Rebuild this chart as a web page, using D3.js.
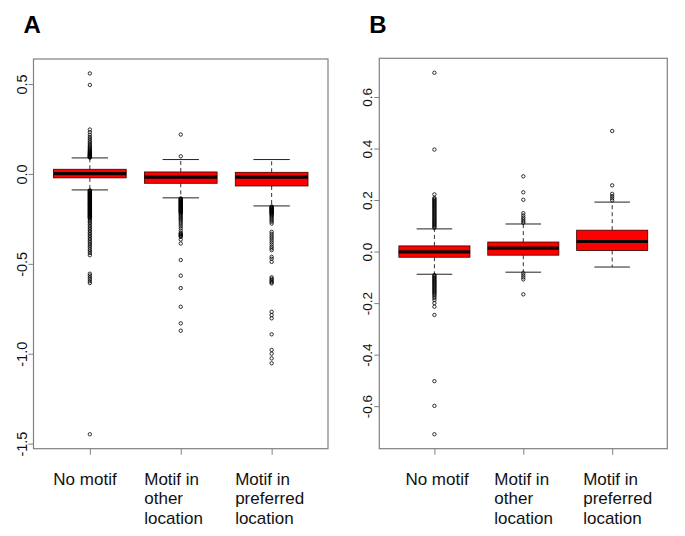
<!DOCTYPE html>
<html>
<head>
<meta charset="utf-8">
<script src="https://cdn.jsdelivr.net/npm/d3@7"></script>
<style>
  body { margin: 0; background: #fff; }
  text { font-family: "Liberation Sans", Arial, sans-serif; }
</style>
</head>
<body>
<div id="chart"></div>
<script>
// groups (the same in both panels)
var groups = [["No motif"], ["Motif in", "other", "location"], ["Motif in", "preferred", "location"]];

// panel A: box statistics
var aLow = [-0.089, -0.133, -0.178];
var aQ1 = [-0.022, -0.052, -0.067];
var aMed = [0.002, -0.018, -0.018];
var aQ3 = [0.026, 0.011, 0.009];
var aHigh = [0.089, 0.080, 0.080];
var aTicks = [0.5, 0.0, -0.5, -1.0, -1.5];
// panel A: outliers per group
var aOut1 = [0.559, 0.495, 0.247, 0.232, 0.218, 0.205, 0.195, 0.185, 0.176, 0.168, 0.160, 0.153,
  0.147, 0.141, 0.136, 0.131, 0.127, 0.123, 0.119, 0.116, 0.113, 0.110, 0.107, 0.104, 0.101,
  0.099, 0.097, 0.095, 0.093, 0.091,
  -0.091, -0.094, -0.097, -0.100, -0.103, -0.106, -0.109, -0.112, -0.115, -0.118, -0.121,
  -0.124, -0.127, -0.130, -0.133, -0.136, -0.139, -0.142, -0.145, -0.148, -0.151, -0.154,
  -0.157, -0.160, -0.163, -0.166, -0.169, -0.172, -0.175, -0.178, -0.181, -0.184, -0.187,
  -0.190, -0.193, -0.196, -0.199, -0.202, -0.205, -0.208, -0.211, -0.214, -0.217, -0.220,
  -0.223, -0.226, -0.229, -0.232, -0.235, -0.238, -0.241, -0.244, -0.248, -0.256, -0.264,
  -0.272, -0.281, -0.290, -0.299, -0.308, -0.317, -0.326, -0.335, -0.344, -0.353, -0.362,
  -0.371, -0.380, -0.390, -0.400, -0.410, -0.420, -0.430, -0.440, -0.452,
  -0.555, -0.565, -0.575, -0.585, -0.597, -0.607, -1.448];
var aOut2 = [0.219, 0.098,
  -0.136, -0.139, -0.142, -0.145, -0.148, -0.151, -0.154, -0.157, -0.160, -0.163, -0.166,
  -0.169, -0.172, -0.175, -0.178, -0.181, -0.184, -0.187, -0.190, -0.193, -0.196, -0.199,
  -0.202, -0.205, -0.208, -0.211, -0.214, -0.218, -0.224, -0.230, -0.237, -0.244, -0.251,
  -0.258, -0.268, -0.278, -0.290, -0.302, -0.315, -0.327, -0.333, -0.337, -0.341, -0.345,
  -0.350, -0.365, -0.387, -0.479, -0.566, -0.635, -0.739, -0.831, -0.872];
var aOut3 = [-0.181, -0.184, -0.187, -0.190, -0.193, -0.196, -0.199, -0.202, -0.205, -0.208,
  -0.211, -0.214, -0.217, -0.220, -0.224, -0.229, -0.235, -0.242, -0.250, -0.258, -0.266,
  -0.276, -0.322, -0.333, -0.345, -0.356, -0.368, -0.380, -0.392, -0.404, -0.414, -0.424,
  -0.461, -0.472, -0.489, -0.575, -0.583, -0.590, -0.597, -0.603, -0.609,
  -0.767, -0.785, -0.803, -0.892, -0.979, -1.000, -1.026, -1.053];

// panel B: box statistics
var bLow = [-0.088, -0.080, -0.060];
var bQ1 = [-0.022, -0.014, 0.004];
var bMed = [-0.001, 0.013, 0.039];
var bQ3 = [0.022, 0.037, 0.083];
var bHigh = [0.088, 0.107, 0.192];
var bTicks = [0.6, 0.4, 0.2, 0.0, -0.2, -0.4, -0.6];
// panel B: outliers per group
var bOut1 = [0.694, 0.396, 0.222, 0.208, 0.204, 0.200, 0.196, 0.192, 0.188, 0.184, 0.180,
  0.176, 0.172, 0.168, 0.164, 0.160, 0.156, 0.152, 0.148, 0.144, 0.140, 0.136, 0.132, 0.128,
  0.124, 0.120, 0.116, 0.112, 0.108, 0.104, 0.100, 0.096, 0.092,
  -0.091, -0.095, -0.099, -0.103, -0.107, -0.111, -0.115, -0.119, -0.123, -0.127, -0.131,
  -0.135, -0.139, -0.143, -0.147, -0.151, -0.155, -0.159, -0.163, -0.168, -0.174, -0.180,
  -0.188, -0.200, -0.214, -0.246, -0.503, -0.599, -0.709];
var bOut2 = [0.292, 0.230, 0.201, 0.149, 0.140, 0.132, 0.125, 0.118, 0.112,
  -0.084, -0.092, -0.100, -0.108, -0.166];
var bOut3 = [0.468, 0.257, 0.224, 0.215, 0.207, 0.199];

var W = 685, H = 536;
var svg = d3.select("#chart").append("svg").attr("width", W).attr("height", H);

function panel(p) {
  var all = d3.merge([p.low, p.high].concat(p.out));
  var lo = d3.min(all), hi = d3.max(all), r = hi - lo;
  // R style axes: 4% padding
  var y = d3.scaleLinear().domain([lo - 0.04 * r, hi + 0.04 * r]).range([p.bottom, p.top]);
  var x = d3.scaleLinear().domain([0.38, 3.62]).range([p.left, p.right]);
  var g = svg.append("g");

  // panel letter
  g.append("text").attr("x", p.left - 10).attr("y", 33)
    .style("font-size", "24px").style("font-weight", "bold").text(p.letter);

  var stats = d3.range(3).map(function(i) {
    return {i: i + 1, low: p.low[i], q1: p.q1[i], med: p.med[i], q3: p.q3[i], high: p.high[i], out: p.out[i]};
  });
  var bx = g.selectAll("g.box").data(stats).enter().append("g").attr("class", "box");
  // whiskers
  bx.append("line").attr("x1", d => x(d.i)).attr("x2", d => x(d.i))
    .attr("y1", d => y(d.q3)).attr("y2", d => y(d.high))
    .attr("stroke", "#333").attr("stroke-dasharray", "4,3");
  bx.append("line").attr("x1", d => x(d.i)).attr("x2", d => x(d.i))
    .attr("y1", d => y(d.q1)).attr("y2", d => y(d.low))
    .attr("stroke", "#333").attr("stroke-dasharray", "4,3");
  ["low", "high"].forEach(function(k) {
    bx.append("line").attr("x1", d => x(d.i - 0.2)).attr("x2", d => x(d.i + 0.2))
      .attr("y1", d => y(d[k])).attr("y2", d => y(d[k]))
      .attr("stroke", "#222").attr("stroke-width", 1);
  });
  // boxes
  bx.append("rect").attr("x", d => x(d.i - 0.4)).attr("width", d => x(d.i + 0.4) - x(d.i - 0.4))
    .attr("y", d => y(d.q3)).attr("height", d => y(d.q1) - y(d.q3))
    .attr("fill", "#ff0000").attr("stroke", "#3a0000").attr("stroke-width", 0.8);
  bx.append("line").attr("x1", d => x(d.i - 0.4)).attr("x2", d => x(d.i + 0.4))
    .attr("y1", d => y(d.med)).attr("y2", d => y(d.med))
    .attr("stroke", "#100000").attr("stroke-width", 3.2);
  // outliers
  bx.each(function(d) {
    d3.select(this).selectAll("circle").data(d.out).enter().append("circle")
      .attr("cx", x(d.i)).attr("cy", v => y(v)).attr("r", 1.7)
      .attr("fill", "none").attr("stroke", "#000").attr("stroke-width", 0.8);
  });

  // frame
  g.append("rect").attr("x", p.left).attr("y", p.top)
    .attr("width", p.right - p.left).attr("height", p.bottom - p.top)
    .attr("fill", "none").attr("stroke", "#808080").attr("stroke-width", 1.2);

  // y axis
  var ya = g.append("g").attr("transform", "translate(" + p.left + ",0)")
    .call(d3.axisLeft(y).tickValues(p.ticks).tickSize(5).tickFormat(d => d.toFixed(1)));
  ya.select(".domain").remove();
  ya.selectAll("line").attr("stroke", "#808080");
  ya.selectAll("text").attr("transform", "rotate(-90)").attr("x", 0).attr("y", -7).attr("dy", 0)
    .attr("text-anchor", "middle").attr("fill", "#111").style("font-size", p.fs + "px");

  // x axis
  var xa = g.append("g").attr("transform", "translate(0," + p.bottom + ")")
    .call(d3.axisBottom(x).tickValues([1, 2, 3]).tickSize(6).tickFormat(""));
  xa.select(".domain").remove();
  xa.selectAll("line").attr("stroke", "#808080");

  // category labels, left aligned lines
  groups.forEach(function(lines, i) {
    var t = g.append("text").style("font-size", "17px").attr("fill", "#111");
    lines.forEach(function(s, j) {
      t.append("tspan").attr("x", x(i + 1) - p.shift).attr("y", p.bottom + 36 + j * 19.5).text(s);
    });
  });
}

panel({letter: "A", left: 33.5, right: 328, top: 59, bottom: 448.7, fs: 14.5, shift: 36.5,
  low: aLow, q1: aQ1, med: aMed, q3: aQ3, high: aHigh, out: [aOut1, aOut2, aOut3], ticks: aTicks});
panel({letter: "B", left: 379.3, right: 667.3, top: 58.3, bottom: 448.7, fs: 13.5, shift: 29,
  low: bLow, q1: bQ1, med: bMed, q3: bQ3, high: bHigh, out: [bOut1, bOut2, bOut3], ticks: bTicks});
</script>
</body>
</html>
